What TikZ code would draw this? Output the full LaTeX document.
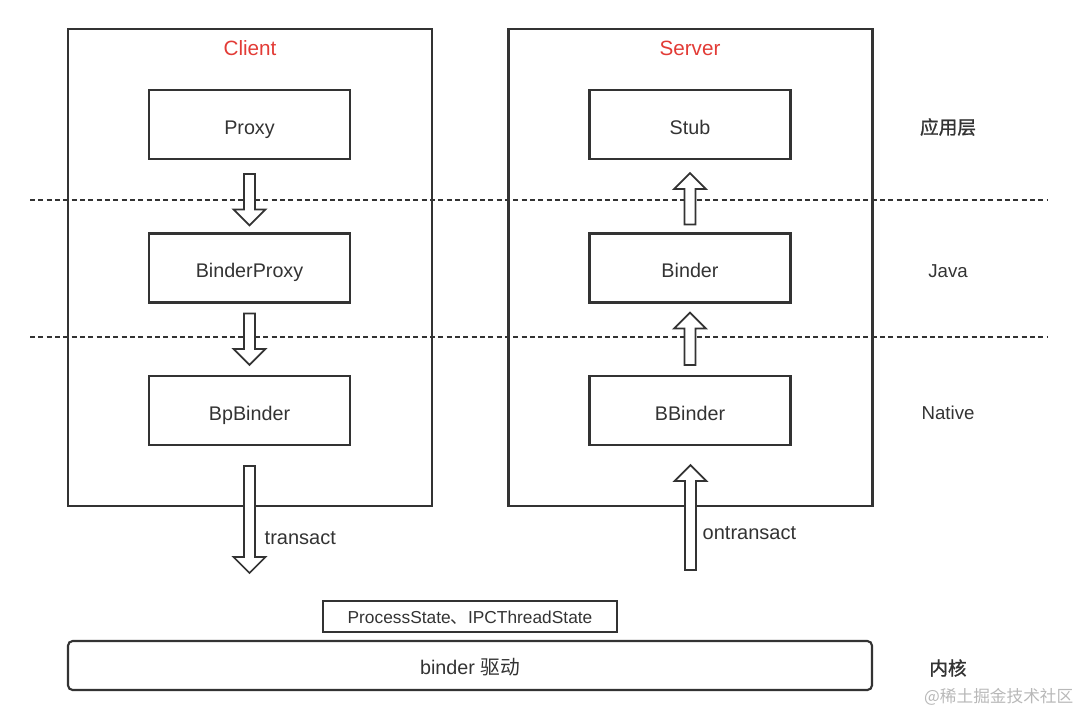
\documentclass[tikz,border=0pt]{standalone}
\usepackage{fontspec}
\setmainfont{Liberation Sans}
\newfontfamily\cjk{Noto Sans CJK SC}
\newfontfamily\cjkheavy[FakeBold=1.2]{Noto Sans CJK SC}
\usetikzlibrary{calc}
\definecolor{ink}{HTML}{333333}
\definecolor{titlered}{HTML}{E23B36}
\definecolor{mark}{HTML}{B8B8B8}
\begin{document}
\begin{tikzpicture}[x=0.75pt,y=-0.75pt,
  box/.style={draw=ink,line width=1.6pt,minimum width=150.75pt,minimum height=51.75pt,
    font=\fontsize{14.8}{16}\selectfont,text=ink,inner sep=0pt,text height=14.5pt,text depth=0pt},
  frame/.style={draw=ink,line width=1.6pt,minimum width=273pt,minimum height=357.75pt,inner sep=0pt},
  title/.style={text=titlered,font=\fontsize{15.5}{16}\selectfont},
  layer/.style={text=ink,font=\fontsize{14}{16}\selectfont},
  layerline/.style={draw=ink,line width=1.1pt,dash pattern=on 3.75pt off 2.5pt},
  hollow/.style={draw=ink,fill=white,line width=1.3pt,line join=miter,
    to path={let \p1=(\tikztostart), \p2=(\tikztotarget), \n1={sign(\y2-\y1)} in
      (\x1-4.1pt,\y1) -- (\x1-4.1pt,\y2-\n1*12pt) -- (\x1-12pt,\y2-\n1*12pt) -- (\x1,\y2)
      -- (\x1+12pt,\y2-\n1*12pt) -- (\x1+4.1pt,\y2-\n1*12pt) -- (\x1+4.1pt,\y1) -- cycle}},
  ]
\useasboundingbox (0,0) rectangle (1080,719);

% layer separators
\draw[layerline] (30,200) -- (1048,200);
\draw[layerline] (30,337) -- (1048,337);

% process frames
\node[frame] (clientframe) at (250,267.5) {};
\node[frame] (serverframe) at (690.5,267.5) {};
\node[title] (clienttitle) at (250,48) {Client};
\node[title] (servertitle) at (690,48) {Server};

% client side
\node[box] (proxy) at (249.5,124.5) {Proxy};
\node[box] (binderproxy) at (249.5,268) {BinderProxy};
\node[box] (bpbinder) at (249.5,410.5) {BpBinder};

% server side
\node[box] (stub) at (690,124.5) {Stub};
\node[box] (binder) at (690,268) {Binder};
\node[box] (bbinder) at (690,410.5) {BBinder};

% layer names
\node[layer] (lapp) at (948,127) {\cjkheavy 应用层};
\node[layer] (ljava) at (948,271) {Java};
\node[layer] (lnative) at (948,413) {Native};
\node[layer] (lkernel) at (948,668) {\cjkheavy 内核};

% kernel side
\node[draw=ink,line width=1.5pt,minimum width=220.5pt,minimum height=23.25pt,inner sep=0pt,
  text=ink,font=\fontsize{13}{14}\selectfont,text height=10.5pt,text depth=0pt] (state) at (470,616.5)
  {ProcessState{\cjk 、}IPCThreadState};
\node[draw=ink,line width=1.6pt,rounded corners=3.5pt,minimum width=603pt,minimum height=36.75pt,
  inner sep=0pt,text=ink,font=\fontsize{14.8}{16}\selectfont,text height=13.5pt,text depth=0pt] (driver) at (470,665.5)
  {binder {\cjk 驱动}};

% call flow
\coordinate (c1s) at ($(proxy.south)+(0,14)$);
\coordinate (c1e) at ($(binderproxy.north)+(0,-7)$);
\coordinate (c2s) at ($(binderproxy.south)+(0,10)$);
\coordinate (c2e) at ($(bpbinder.north)+(0,-10)$);
\coordinate (c3s) at ($(bpbinder.south)+(0,20)$);
\coordinate (c3e) at (249.5,573);
\draw[hollow] (c1s) to (c1e);
\draw[hollow] (c2s) to (c2e);
\draw[hollow] (c3s) to (c3e);

\coordinate (s1s) at ($(binder.north)+(0,-8)$);
\coordinate (s1e) at ($(stub.south)+(0,13)$);
\coordinate (s2s) at ($(bbinder.north)+(0,-10)$);
\coordinate (s2e) at ($(binder.south)+(0,9)$);
\coordinate (s3s) at (690.5,570);
\coordinate (s3e) at ($(bbinder.south)+(0.5,19)$);
\draw[hollow] (s1s) to (s1e);
\draw[hollow] (s2s) to (s2e);
\draw[hollow] (s3s) to (s3e);

\node[anchor=west,text=ink,font=\fontsize{15}{16}\selectfont] (transact) at (260,538) {transact};
\node[anchor=west,text=ink,font=\fontsize{15}{16}\selectfont] (ontransact) at (698,533) {ontransact};

% watermark
\node[anchor=east,text=mark,font=\cjk\fontsize{12.5}{14}\selectfont] (wm) at (1078,697) {@稀土掘金技术社区};
\end{tikzpicture}
\end{document}
